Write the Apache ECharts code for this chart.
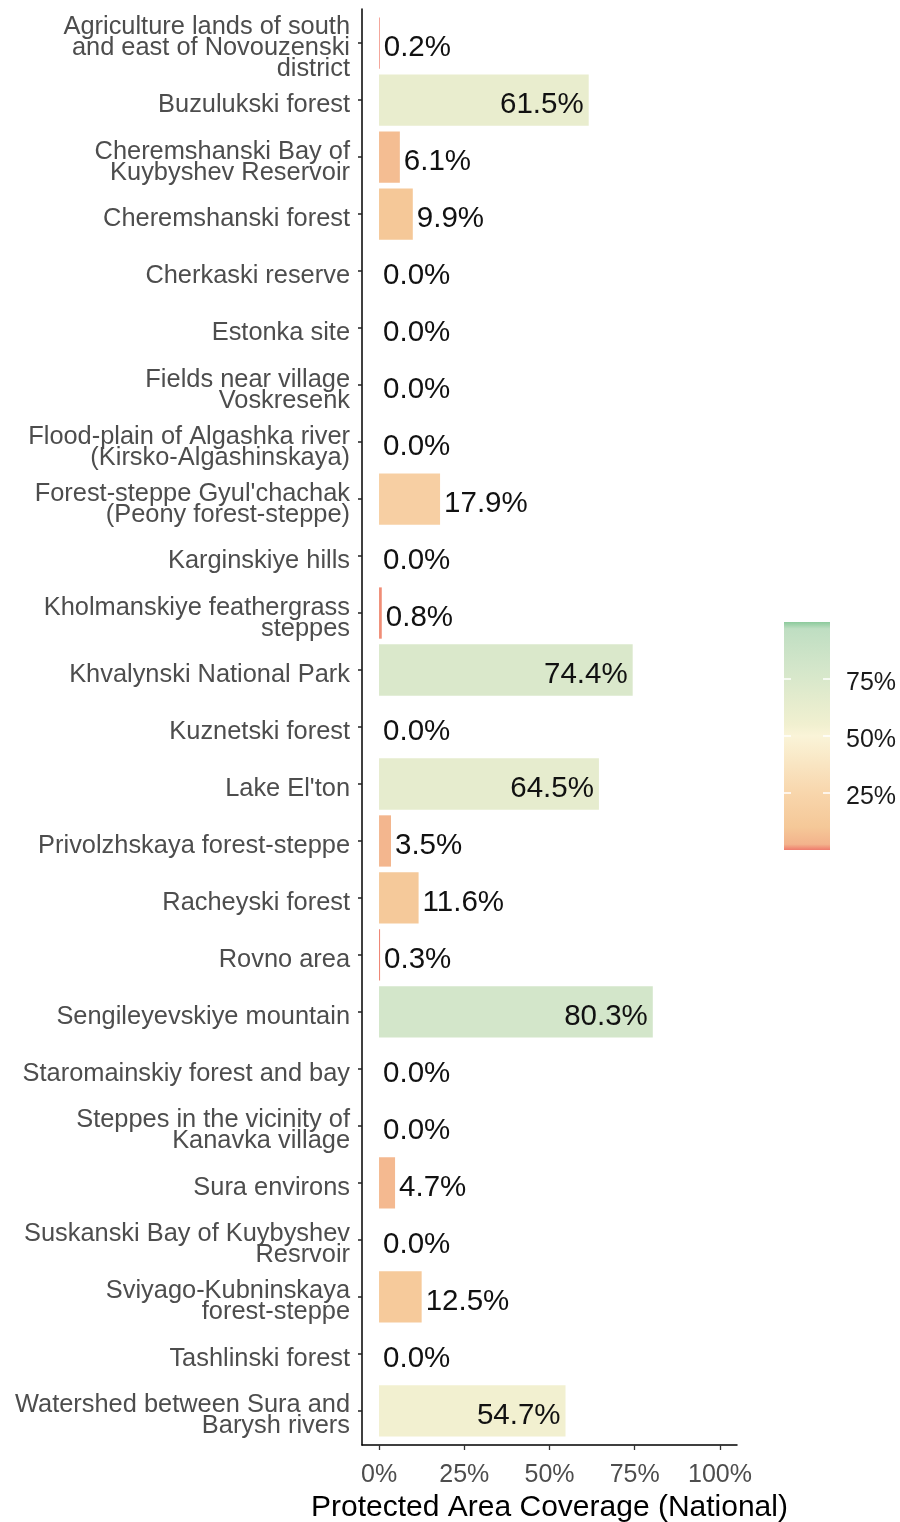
<!DOCTYPE html>
<html>
<head>
<meta charset="utf-8">
<script src="https://cdn.jsdelivr.net/npm/echarts@6/dist/echarts.min.js"></script>
<style>
html,body{margin:0;padding:0;background:#fff;}
#chart{width:900px;height:1522px;}
</style>
</head>
<body>
<div id="chart"></div>
<script>
var categories = [
  "Agriculture lands of south\nand east of Novouzenski\ndistrict",
  "Buzulukski forest",
  "Cheremshanski Bay of\nKuybyshev Reservoir",
  "Cheremshanski forest",
  "Cherkaski reserve",
  "Estonka site",
  "Fields near village\nVoskresenk",
  "Flood-plain of Algashka river\n(Kirsko-Algashinskaya)",
  "Forest-steppe Gyul'chachak\n(Peony forest-steppe)",
  "Karginskiye hills",
  "Kholmanskiye feathergrass\nsteppes",
  "Khvalynski National Park",
  "Kuznetski forest",
  "Lake El'ton",
  "Privolzhskaya forest-steppe",
  "Racheyski forest",
  "Rovno area",
  "Sengileyevskiye mountain",
  "Staromainskiy forest and bay",
  "Steppes in the vicinity of\nKanavka village",
  "Sura environs",
  "Suskanski Bay of Kuybyshev\nResrvoir",
  "Sviyago-Kubninskaya\nforest-steppe",
  "Tashlinski forest",
  "Watershed between Sura and\nBarysh rivers"
];
var coverage = [0.2, 61.5, 6.1, 9.9, 0.0, 0.0, 0.0, 0.0, 17.9, 0.0, 0.8, 74.4, 0.0, 64.5, 3.5, 11.6, 0.3, 80.3, 0.0, 0.0, 4.7, 0.0, 12.5, 0.0, 54.7];
var xTicks = [0, 25, 50, 75, 100];
var legendTicks = [25, 50, 75];
var colorStops = [
  [0, "#EF7B6C"], [2.5, "#F3B38C"], [10, "#F5C898"], [25, "#F8D6AC"],
  [50, "#FAF4D8"], [55, "#F1F0D0"], [75, "#D9E8CB"], [80, "#D3E6CA"],
  [97, "#BFDEC2"], [100, "#8CCA9C"]
];

function hexToRgb(h){ return [parseInt(h.substr(1,2),16), parseInt(h.substr(3,2),16), parseInt(h.substr(5,2),16)]; }
function colorFor(v){
  for (var i = 1; i < colorStops.length; i++) {
    if (v <= colorStops[i][0]) {
      var a = colorStops[i-1], b = colorStops[i];
      var t = (v - a[0]) / (b[0] - a[0]);
      var ca = hexToRgb(a[1]), cb = hexToRgb(b[1]);
      var c = ca.map(function(x, k){ return Math.round(x + t * (cb[k] - x)); });
      return "rgb(" + c.join(",") + ")";
    }
  }
  return colorStops[colorStops.length-1][1];
}

var barData = coverage.map(function(v){
  return {
    value: v,
    itemStyle: { color: colorFor(v) },
    label: { position: v > 50 ? "insideRight" : "right", distance: v > 50 ? 5 : 4 }
  };
});

var gradient = new echarts.graphic.LinearGradient(0, 1, 0, 0,
  colorStops.map(function(s){ return { offset: s[0] / 100, color: s[1] }; }));

var FONT = "Liberation Sans, Arial, sans-serif";
var chart = echarts.init(document.getElementById("chart"), null, { renderer: "canvas" });

var frameTop = 9, frameBottom = 1445;
var band = (frameBottom - frameTop) / (categories.length + 0.2);
var dataTop = frameTop + 0.1 * band;
var dataHeight = band * categories.length;
var legTop = 622, legHeight = 228;

function g(left, width, top, height){
  return { left: left, width: width, top: top, height: height, containLabel: false, outerBoundsMode: "none" };
}

chart.setOption({
  backgroundColor: "#ffffff",
  animation: false,
  textStyle: { fontFamily: FONT },
  grid: [
    g(362, 375, frameTop, frameBottom - frameTop),
    g(362, 375, dataTop, dataHeight),
    g(784, 46, legTop, legHeight),
    g(362, 375, dataTop + 5, dataHeight),
    g(784, 46, legTop + 4.5, legHeight)
  ],
  xAxis: [
    {
      gridIndex: 0, type: "value", min: -5, max: 105,
      axisLine: { show: true, onZero: false, lineStyle: { color: "#000", width: 1.5 } },
      axisTick: { show: true, length: 5, customValues: xTicks, lineStyle: { color: "#333", width: 1.3 } },
      axisLabel: { customValues: xTicks, formatter: function(v){ return v + "%"; }, fontSize: 25, color: "#4D4D4D", margin: 18, fontFamily: FONT },
      splitLine: { show: false },
      name: "Protected Area Coverage (National)", nameLocation: "middle", nameGap: 48,
      nameTextStyle: { fontSize: 30, color: "#000", fontFamily: FONT }
    },
    { gridIndex: 1, type: "value", min: -5, max: 105, show: false },
    { gridIndex: 2, type: "category", data: ["bar"], show: false },
    { gridIndex: 3, type: "value", min: -5, max: 105, show: false },
    { gridIndex: 4, type: "category", data: ["bar"], show: false }
  ],
  yAxis: [
    {
      gridIndex: 0, type: "value", min: 0, max: 1,
      axisLine: { show: true, onZero: false, lineStyle: { color: "#000", width: 1.5 } },
      axisTick: { show: false }, axisLabel: { show: false }, splitLine: { show: false }
    },
    {
      gridIndex: 1, type: "category", data: categories, inverse: true,
      axisLine: { show: false, onZero: false },
      axisTick: { show: true, length: 4, alignWithLabel: true, lineStyle: { color: "#222", width: 1.5 } },
      axisLabel: { show: false },
      splitLine: { show: false }
    },
    {
      gridIndex: 2, type: "value", min: 0, max: 100, position: "right", z: 10,
      axisLine: { show: false, onZero: false },
      axisTick: { show: true, inside: true, length: 7, customValues: legendTicks, lineStyle: { color: "#fff", width: 1.5 } },
      axisLabel: { show: false },
      splitLine: { show: false }
    },
    {
      gridIndex: 2, type: "value", min: 0, max: 100, position: "left", z: 10,
      axisLine: { show: false, onZero: false },
      axisTick: { show: true, inside: true, length: 7, customValues: legendTicks, lineStyle: { color: "#fff", width: 1.5 } },
      axisLabel: { show: false },
      splitLine: { show: false }
    },
    {
      gridIndex: 3, type: "category", data: categories, inverse: true,
      axisLine: { show: false, onZero: false },
      axisTick: { show: false },
      axisLabel: { fontSize: 25.4, color: "#4D4D4D", margin: 12, lineHeight: 21, align: "right", fontFamily: FONT },
      splitLine: { show: false }
    },
    {
      gridIndex: 4, type: "value", min: 0, max: 100, position: "right",
      axisLine: { show: false, onZero: false },
      axisTick: { show: false },
      axisLabel: { customValues: legendTicks, formatter: function(v){ return v + "%"; }, fontSize: 25, color: "#1A1A1A", margin: 16, fontFamily: FONT },
      splitLine: { show: false }
    }
  ],
  series: [
    {
      type: "bar", xAxisIndex: 1, yAxisIndex: 1, barWidth: "90%",
      data: barData,
      label: {
        show: true, fontSize: 29.5, color: "#111", fontFamily: FONT, offset: [0, 5],
        formatter: function(p){ return p.value.toFixed(1) + "%"; }
      },
      silent: true
    },
    {
      type: "bar", xAxisIndex: 2, yAxisIndex: 2, barWidth: "100%",
      data: [100], itemStyle: { color: gradient }, silent: true
    }
  ]
});
</script>
</body>
</html>
